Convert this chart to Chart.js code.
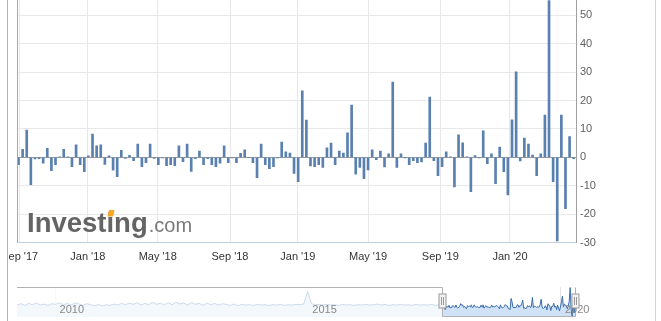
<!DOCTYPE html>
<html><head><meta charset="utf-8">
<script src="https://cdn.jsdelivr.net/npm/chart.js@4.4.0/dist/chart.umd.min.js"></script>
<style>
html,body{margin:0;padding:0;background:#fff;}
#wrap{position:relative;width:661px;height:321px;overflow:hidden;background:#fff;}
#main{position:absolute;left:0;top:0;width:661px;height:280px;}
#nav{position:absolute;left:0;top:280px;width:661px;height:41px;}
#mask{position:absolute;left:0;top:0;width:7px;height:321px;background:#fff;}
#bl{position:absolute;left:7px;top:0;width:1px;height:321px;background:#b4b4b4;}
#br{position:absolute;left:655px;top:0;width:1px;height:321px;background:#d4d4d4;}
</style></head>
<body><div id="wrap">
<canvas id="main" width="661" height="280"></canvas>
<canvas id="nav" width="661" height="41"></canvas>
<div id="mask"></div><div id="bl"></div><div id="br"></div>
</div>
<script>
// ---- data ----
const releaseStart = '2017-08-30';
const skippedWeeks = ['2017-12-27', '2018-12-26', '2020-01-01'];
const values = [
 -2.6, 2.8, 9.6, -9.6, -0.6, -0.5, -2.1, 3.2, -4.7, -2.6,
  0.2, 2.8, 0.1, -3.3, 4.4, -2.6, -5.1, 0.5, 8.2, 4.0,
  4.4, -2.5, 0.5, -4.5, -6.8, 2.5, -0.4, 0.7, -1.2, 4.7,
 -3.3, -1.9, 4.7, -0.4, -2.6, -0.2, -2.9, -2.6, -2.9, 4.0,
 -1.5, 4.7, -5.0, -0.5, 2.2, -2.6, -0.5, -2.6, -3.3, -2.1,
  4.0, -1.9, -0.1, -1.9, 1.4, 2.6, 0.0, -1.9, -7.2, 4.7,
 -2.6, -4.0, -3.3, -0.1, 5.4, 1.9, 1.5, -5.7, -8.6, 23.4,
 13.1, -3.0, -3.3, -2.6, -3.6, 3.3, 5.0, -2.6, 2.2, 1.5,
  8.6, 18.4, -5.9, -3.6, -7.5, -4.4, 2.6, -0.8, 2.2, -3.4,
  1.2, 26.5, -3.6, 1.2, -0.1, -2.6, -1.2, -1.9, -1.6, 5.0,
 21.2, -1.2, -6.5, -3.3, 1.9, 0.1, -10.4, 7.9, 5.1, 0.2,
-12.1, 0.6, -0.1, 9.3, -2.2, 1.2, -9.3, 3.6, -5.1, -13.2,
 13.2, 30.1, -1.3, 6.8, 4.7, 0.8, -6.5, 1.2, 14.9, 55.2,
 -8.6, -29.4, 14.9, -18.1, 7.3, -0.5
];
const monthTicks = ['2017-09-01','2018-01-01','2018-05-01','2018-09-01','2019-01-01','2019-05-01','2019-09-01','2020-01-01'];
const monthLabels = ["Sep '17","Jan '18","May '18","Sep '18","Jan '19","May '19","Sep '19","Jan '20"];
const yTicks = [-30, -20, -10, 0, 10, 20, 30, 40, 50];
// navigator history (every 4 weeks)
const histStart = '2009-04-01';
const histStepWeeks = 4;
const histValues = [
  4,8,3,9,5,10,4,7,3,8,
  6,11,5,9,4,10,7,3,8,5,
  2,6,1,5,3,7,4,9,5,10,
  6,11,4,9,5,12,6,10,4,11,
  5,12,7,10,4,11,6,9,3,10,
  5,9,4,8,6,3,7,2,6,4,
  5,3,6,4,5,3,5,4,6,3,
  5,4,6,5,7,44,8,5,6,4,
  6,4,5,3,6,4,5,3,5,4,
  6,4,5,7,4,6,3,5,4,6,
  4,5,3,6,4,5,4,6,3,5
];
const navYears = [2010, 2015, 2020];

// ---- helpers ----
const DAY = 86400000;
const d = s => Date.parse(s + 'T00:00:00Z');
const skip = new Set(skippedWeeks.map(d));
const dates = [];
for (let t = d(releaseStart); dates.length < values.length; t += 7 * DAY) { if (!skip.has(t)) dates.push(t); }
function ordPos(ts) {
  for (let i = 0; i < dates.length - 1; i++) {
    if (ts >= dates[i] && ts < dates[i + 1]) return i + (ts - dates[i]) / (dates[i + 1] - dates[i]);
  }
  return dates.length - 1;
}
const FONT = '"Liberation Sans", Arial, sans-serif';
Chart.defaults.font.family = FONT;

const deco = {
  id: 'deco',
  beforeDatasetsDraw(c) {
    const ctx = c.ctx; ctx.save();
    const x0 = 27, base = 232;
    ctx.textBaseline = 'alphabetic';
    ctx.font = 'bold 27.5px ' + FONT;
    ctx.fillStyle = '#646464';
    ctx.fillText('Investing', x0, base);
    const w = ctx.measureText('Investing').width;
    const xi = x0 + ctx.measureText('Invest').width;
    const wi = ctx.measureText('i').width;
    ctx.fillStyle = '#f5a623';
    ctx.beginPath();
    ctx.moveTo(xi + 1, 216.5); ctx.lineTo(xi + wi - 1, 216.5); ctx.lineTo(xi + wi + 0.5, 210); ctx.lineTo(xi + 2.5, 210);
    ctx.closePath(); ctx.fill();
    ctx.font = '20px ' + FONT;
    ctx.fillStyle = '#7a7a7a';
    ctx.fillText('.com', x0 + w + 1, base);
    ctx.restore();
  },
  afterDraw(c) {
    const ctx = c.ctx, a = c.chartArea; ctx.save();
    ctx.strokeStyle = '#a8a8a8'; ctx.lineWidth = 1;
    ctx.beginPath(); ctx.moveTo(Math.round(a.left) + 0.5, 0); ctx.lineTo(Math.round(a.left) + 0.5, a.bottom); ctx.stroke();
    ctx.restore();
  }
};

new Chart(document.getElementById('main'), {
  type: 'bar',
  data: { datasets: [{ data: values.map((v, i) => ({ x: i, y: v })), backgroundColor: '#5a80b0', barThickness: 2, borderWidth: 0 }] },
  options: {
    responsive: false, animation: false, events: [],
    layout: { padding: { left: 17, right: 0, top: 0, bottom: 0 } },
    plugins: { legend: { display: false }, tooltip: { enabled: false } },
    scales: {
      x: {
        type: 'linear', min: -0.365, max: 135.56, offset: false,
        afterBuildTicks: s => { s.ticks = monthTicks.map(m => ({ value: ordPos(d(m)) })); },
        afterFit: s => { s.height = 37.5; s.paddingLeft = 0; s.paddingRight = 0; },
        ticks: { autoSkip: false, maxRotation: 0, padding: 8, color: '#333', font: { size: 11 }, callback: (v, i) => monthLabels[i] },
        grid: { color: '#e8e8e8', drawTicks: false, offset: false },
        border: { color: '#c0d0e0' }
      },
      y: {
        position: 'right', min: -30, max: 55.4,
        afterBuildTicks: s => { s.ticks = yTicks.map(v => ({ value: v })); },
        afterFit: s => { s.width = 85; s.paddingTop = 0; s.paddingBottom = 0; },
        ticks: { padding: 4, color: '#606060', font: { size: 11 } },
        grid: { color: c => (c.tick && c.tick.value === 0 ? '#9a9a9a' : '#e8e8e8'), drawTicks: false },
        border: { color: '#a0a0a0' }
      }
    }
  },
  plugins: [deco]
});

// ---- navigator ----
const navPts = histValues.map((v, i) => ({ x: d(histStart) + i * histStepWeeks * 7 * DAY, y: v }))
  .concat(values.map((v, i) => ({ x: dates[i], y: v })));
const navDeco = {
  id: 'navDeco',
  afterDraw(c) {
    const ctx = c.ctx, a = c.chartArea, xs = c.scales.x; ctx.save();
    const sl = Math.round(xs.getPixelForValue(dates[0])) + 0.5, sr = Math.round(a.right) - 0.5;
    const top = Math.round(a.top) + 0.5, bot = Math.round(a.bottom) - 0.5;
    ctx.fillStyle = 'rgba(255,255,255,0.75)';
    ctx.fillRect(a.left, a.top, sl - a.left, a.bottom - a.top);
    ctx.strokeStyle = '#b2b1b6'; ctx.lineWidth = 1;
    ctx.beginPath(); ctx.moveTo(a.left, top); ctx.lineTo(sl, top); ctx.lineTo(sl, bot); ctx.lineTo(sr, bot); ctx.lineTo(sr, top); ctx.stroke();
    ctx.fillStyle = '#888'; ctx.font = '11px ' + FONT; ctx.textBaseline = 'middle';
    navYears.forEach(y => { ctx.fillText(String(y), xs.getPixelForValue(Date.UTC(y, 0, 1)) + 4.5, 29.5); });
    [sl, sr].forEach(x => {
      ctx.fillStyle = '#f2f2f2'; ctx.strokeStyle = '#999';
      ctx.fillRect(x - 3.5, 14, 7, 14); ctx.strokeRect(x - 3.5, 14, 7, 14);
      ctx.beginPath(); ctx.moveTo(x - 1, 17); ctx.lineTo(x - 1, 25); ctx.moveTo(x + 1, 17); ctx.lineTo(x + 1, 25); ctx.stroke();
    });
    ctx.restore();
  }
};
new Chart(document.getElementById('nav'), {
  type: 'line',
  data: { datasets: [{ data: navPts, borderColor: '#3a6cae', borderWidth: 1, pointRadius: 0, fill: 'start', backgroundColor: '#d0e2f8', tension: 0 }] },
  options: {
    responsive: false, animation: false, events: [],
    layout: { padding: { left: 17, right: 85, top: 7, bottom: 4 } },
    plugins: { legend: { display: false }, tooltip: { enabled: false } },
    scales: {
      x: {
        type: 'linear', min: d(histStart), max: dates[dates.length - 1],
        afterBuildTicks: s => { s.ticks = navYears.map(y => ({ value: Date.UTC(y, 0, 1) })); },
        afterFit: s => { s.height = 0; s.paddingLeft = 0; s.paddingRight = 0; },
        ticks: { display: false }, grid: { color: '#e4e4e4', drawTicks: false }, border: { display: false }
      },
      y: { display: false, min: -31, max: 57 }
    }
  },
  plugins: [navDeco]
});
</script>
</body></html>
